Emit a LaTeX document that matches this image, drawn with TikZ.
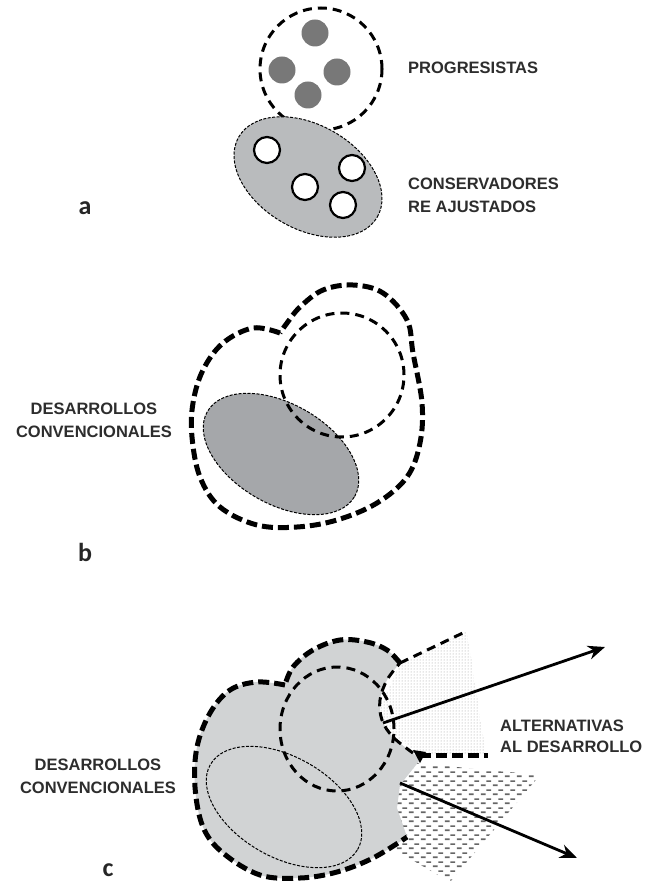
\documentclass[tikz,border=0pt]{standalone}
\usepackage{fontspec}
\setmainfont{Liberation Sans}
\newfontfamily\panelfont{Carlito}
\usetikzlibrary{arrows.meta}
\usetikzlibrary{patterns}
\usetikzlibrary{shapes.geometric}
\definecolor{dotgray}{RGB}{120,120,120}
\definecolor{consgray}{RGB}{185,187,189}
\definecolor{convgray}{RGB}{165,167,170}
\definecolor{blobgray}{RGB}{209,211,212}
\definecolor{txtgray}{RGB}{45,45,45}
\pgfdeclarepatternformonly{dashrows}{\pgfqpoint{0pt}{0pt}}{\pgfqpoint{12pt}{9pt}}{\pgfqpoint{12pt}{9pt}}{
  \pgfsetlinewidth{1.8pt}
  \pgfpathmoveto{\pgfqpoint{1pt}{2pt}}\pgfpathlineto{\pgfqpoint{6pt}{2pt}}
  \pgfpathmoveto{\pgfqpoint{7pt}{6.5pt}}\pgfpathlineto{\pgfqpoint{12pt}{6.5pt}}
  \pgfusepath{stroke}}
\begin{document}
\begin{tikzpicture}[x=1pt,y=-1pt,
  lbl/.style={font=\fontsize{16.5}{23}\selectfont\bfseries, text=txtgray, inner sep=0pt},
  panel/.style={font=\panelfont\fontsize{26}{26}\selectfont\bfseries, text=black!85},
  heavydash/.style={line width=5pt, dash pattern=on 11pt off 5pt},
  middash/.style={line width=3pt, dash pattern=on 9pt off 6pt},
  finedash/.style={line width=1pt, dash pattern=on 3pt off 1.5pt},
  dot/.style={circle, fill=dotgray, minimum size=27pt, inner sep=0pt},
  hole/.style={circle, draw, line width=2.2pt, fill=white, minimum size=26pt, inner sep=0pt},
  oval/.style={ellipse, minimum width=170pt, minimum height=100pt, inner sep=0pt, rotate=-30, draw, finedash},
  alt/.style={-{Stealth[length=17pt,width=14pt]}, line width=2.8pt}]
\useasboundingbox (0,0) rectangle (646,885);
% a
\node[circle, draw, middash, minimum size=122pt, inner sep=0pt] (prog) at (321,69) {};
\node[dot] (p1) at (315,33) {};
\node[dot] (p2) at (282,70) {};
\node[dot] (p3) at (337,72) {};
\node[dot] (p4) at (308,95) {};
\node[oval, fill=consgray, minimum width=160pt, minimum height=104pt] (cons) at (308,177) {};
\node[hole] (c1) at (267,150) {};
\node[hole] (c2) at (305,187) {};
\node[hole] (c3) at (352,168) {};
\node[hole] (c4) at (343,205) {};
\node[lbl, anchor=west] (proglbl) at (408,68) {PROGRESISTAS};
\node[lbl, anchor=west, align=left] (conslbl) at (408,195) {CONSERVADORES\\RE AJUSTADOS};
\node[panel] (la) at (85,208) {a};
% b
\draw[heavydash] plot[smooth, tension=0.6] coordinates {(280,333) (253,328) (223,343) (203,370) (193,403) (192,437) (200,477) (220,507) (257,525) (297,527) (337,520) (377,503) (407,477) (420,443) (422,403) (413,353) (407,320) (383,293) (353,285) (323,290) (300,307) (287,323) (280,333)};
\node[oval, fill=convgray] (convb) at (281,454) {};
\node[circle, draw, middash, minimum size=124pt, inner sep=0pt] (progb) at (342,375) {};
\node[lbl, align=center] (convlblb) at (94,420) {DESARROLLOS\\CONVENCIONALES};
\node[panel] (lb) at (85,552) {b};
% c
\fill[pattern=dashrows, pattern color=black!60] (405,762) -- (540,775) -- (450,882) -- (395,850) -- (380,790) -- cycle;
\fill[pattern=dots, pattern color=black!40] (400,663) -- (467,631) -- (486,755) -- (420,755) -- (375,720) -- cycle;
\fill[blobgray] plot[smooth, tension=0.6] coordinates {(400,663) (387,650) (367,642) (340,640) (313,650) (293,667) (285,685)}
  -- plot[smooth, tension=0.6] coordinates {(285,685) (257,682) (230,690) (210,713) (197,747) (195,787) (203,827) (223,853) (260,875) (300,878) (337,872) (373,858) (407,837)}
  -- (397,808) -- (400,785) -- (420,760) -- (413,753)
  -- plot[smooth, tension=0.6] coordinates {(413,753) (393,737) (382,720) (380,700) (387,680) (400,663)} -- cycle;
\node[oval] (convc) at (284,807) {};
\node[ellipse, draw, middash, minimum width=114pt, minimum height=124pt, inner sep=0pt] (progc) at (337,729) {};
\draw[heavydash] plot[smooth, tension=0.6] coordinates {(400,663) (387,650) (367,642) (340,640) (313,650) (293,667) (285,685)};
\draw[heavydash] plot[smooth, tension=0.6] coordinates {(285,685) (257,682) (230,690) (210,713) (197,747) (195,787) (203,827) (223,853) (260,875) (300,878) (337,872) (373,858) (407,837)};
\draw[middash] plot[smooth, tension=0.6] coordinates {(413,753) (393,737) (382,720) (380,700) (387,680) (400,663)};
\draw[middash] (400,663) -- (467,631);
\draw[heavydash] (420,755) -- (488,755);
\fill (413,750) -- (426,752) -- (420,763) -- cycle;
\coordinate (upstart) at (383,723);
\coordinate (uptip) at (605,647);
\coordinate (lowstart) at (400,783);
\coordinate (lowtip) at (577,858);
\draw[alt] (upstart) -- (uptip);
\draw[alt] (lowstart) -- (lowtip);
\node[lbl, anchor=west, align=left] (altlbl) at (500,736) {ALTERNATIVAS\\[-2pt]AL DESARROLLO};
\node[lbl, align=center] (convlblc) at (98,776) {DESARROLLOS\\CONVENCIONALES};
\node[panel] (lc) at (108,870) {c};
\end{tikzpicture}
\end{document}
